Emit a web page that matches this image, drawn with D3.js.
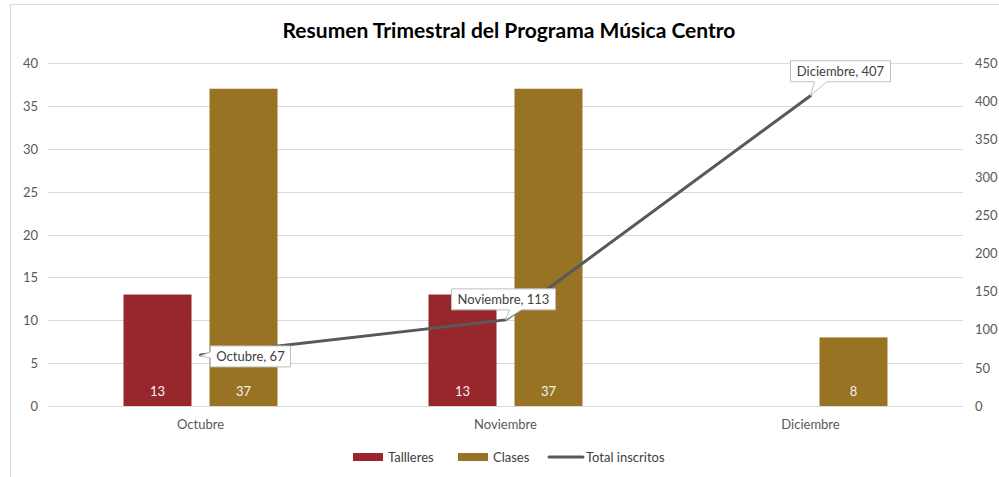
<!DOCTYPE html>
<html>
  <head>
    <meta charset="utf-8">
    <title>Resumen Trimestral</title>
    <script src="https://cdn.jsdelivr.net/npm/d3@7"></script>
    <style>
      body { margin: 0; background: #fff; }
      text { font-family: Lato, "Open Sans", sans-serif; }
      .tick text { fill: #595959; font-size: 13px; }
    </style>
  </head>
  <body>
    <script>
      // data
      var meses = ["Octubre", "Noviembre", "Diciembre"];
      var talleres = [13, 13, null];
      var clases = [37, 37, 8];
      var totalInscritos = [67, 113, 407];
      var leftTicks = [0, 5, 10, 15, 20, 25, 30, 35, 40];
      var rightTicks = [0, 50, 100, 150, 200, 250, 300, 350, 400, 450];
      var seriesNames = ["Tallleres", "Clases", "Total inscritos"];

      var colors = { talleres: "#98262d", clases: "#977323", line: "#595959" };

      var svg = d3.select("body").append("svg").attr("width", 999).attr("height", 477);

      svg.append("rect").attr("x", 10.5).attr("y", 4.5).attr("width", 1000).attr("height", 480)
        .attr("fill", "#fff").attr("stroke", "#d9d9d9");

      svg.append("text").attr("x", 509).attr("y", 38).attr("text-anchor", "middle")
        .attr("font-size", 21).attr("font-weight", "bold").attr("fill", "#000")
        .text("Resumen Trimestral del Programa Música Centro");

      var x = d3.scaleBand().domain(meses).range([48, 963]).padding(0);
      var xs = d3.scaleBand().domain(["t", "c"]).range([0, 154]).paddingInner(0.2093);
      var y = d3.scaleLinear().domain([0, 40]).range([406, 63]);
      var y2 = d3.scaleLinear().domain([0, 450]).range([406, 63]);

      // grid
      svg.append("g").selectAll("line").data(leftTicks).enter().append("line")
        .attr("x1", 48).attr("x2", 963)
        .attr("y1", function(d){ return Math.round(y(d)) + 0.5; })
        .attr("y2", function(d){ return Math.round(y(d)) + 0.5; })
        .attr("stroke", "#d9d9d9").attr("stroke-width", 1);

      var la = svg.append("g").attr("transform", "translate(48,0)")
        .call(d3.axisLeft(y).tickValues(leftTicks).tickSize(0).tickPadding(10));
      la.select(".domain").remove();
      la.selectAll("text").attr("dy", "0.35em");

      var ra = svg.append("g").attr("transform", "translate(963,0)")
        .call(d3.axisRight(y2).tickValues(rightTicks).tickSize(0).tickPadding(12));
      ra.select(".domain").remove();

      var xa = svg.append("g").attr("transform", "translate(0,406)")
        .call(d3.axisBottom(x).tickSize(0).tickPadding(14));
      xa.select(".domain").remove();

      // bars
      var rows = meses.map(function(m, i){ return { mes: m, t: talleres[i], c: clases[i] }; });
      var groups = svg.append("g").selectAll("g").data(rows).enter().append("g")
        .attr("transform", function(d){ return "translate(" + (x(d.mes) + x.bandwidth() / 2 - 77) + ",0)"; });

      [["t", colors.talleres], ["c", colors.clases]].forEach(function(s){
        var g = groups.filter(function(d){ return d[s[0]] != null; });
        g.append("rect")
          .attr("x", xs(s[0])).attr("width", xs.bandwidth())
          .attr("y", function(d){ return y(d[s[0]]); })
          .attr("height", function(d){ return y(0) - y(d[s[0]]); })
          .attr("fill", s[1]);
        g.append("text")
          .attr("x", xs(s[0]) + xs.bandwidth() / 2).attr("y", 396)
          .attr("text-anchor", "middle").attr("font-size", 13).attr("fill", "#f2f2f2")
          .text(function(d){ return d[s[0]]; });
      });

      // line
      var pts = meses.map(function(m, i){ return [x(m) + x.bandwidth() / 2, y2(totalInscritos[i])]; });
      svg.append("path").attr("d", d3.line()(pts)).attr("fill", "none")
        .attr("stroke", colors.line).attr("stroke-width", 3).attr("stroke-linecap", "round");

      // callouts: box offset relative to point, tail side
      var callouts = [
        { dx: 10, dy: -9, w: 80, tail: "left" },
        { dx: -54, dy: -31, w: 104, tail: "bottom" },
        { dx: -20, dy: -35, w: 100, tail: "bottom" }
      ];
      callouts.forEach(function(c, i){
        var px = pts[i][0], py = pts[i][1];
        var bx = px + c.dx, by = py + c.dy, h = 21;
        var g = svg.append("g");
        var d;
        if (c.tail === "left") {
          d = "M" + bx + "," + by + "H" + (bx + c.w) + "V" + (by + h) + "H" + bx +
              "V" + (by + 12) + "L" + px + "," + (py + 1) + "L" + bx + "," + (by + 6) + "Z";
        } else {
          var t1 = px + 4, t2 = px + 16;
          if (t2 > bx + c.w) { t1 = px - 12; t2 = px; }
          d = "M" + bx + "," + by + "H" + (bx + c.w) + "V" + (by + h) + "H" + t2 +
              "L" + px + "," + py + "L" + t1 + "," + (by + h) + "H" + bx + "Z";
        }
        g.append("path").attr("d", d).attr("fill", "#fff").attr("stroke", "#bfbfbf").attr("stroke-width", 1);
        g.append("text").attr("x", bx + c.w / 2).attr("y", by + 15).attr("text-anchor", "middle")
          .attr("font-size", 13).attr("fill", "#404040")
          .text(meses[i] + ", " + totalInscritos[i]);
      });

      // legend
      var leg = [
        { x: 353, name: seriesNames[0], type: "rect", color: colors.talleres },
        { x: 458, name: seriesNames[1], type: "rect", color: colors.clases },
        { x: 549, name: seriesNames[2], type: "line", color: colors.line }
      ];
      var lg = svg.append("g").selectAll("g").data(leg).enter().append("g");
      lg.filter(function(d){ return d.type === "rect"; }).append("rect")
        .attr("x", function(d){ return d.x; }).attr("y", 453).attr("width", 30).attr("height", 8)
        .attr("fill", function(d){ return d.color; });
      lg.filter(function(d){ return d.type === "line"; }).append("line")
        .attr("x1", function(d){ return d.x; }).attr("x2", function(d){ return d.x + 34; })
        .attr("y1", 457).attr("y2", 457).attr("stroke", function(d){ return d.color; })
        .attr("stroke-width", 3).attr("stroke-linecap", "round");
      lg.append("text")
        .attr("x", function(d){ return d.x + (d.type === "rect" ? 35 : 37); }).attr("y", 462)
        .attr("font-size", 13).attr("fill", "#404040")
        .text(function(d){ return d.name; });
    </script>
  </body>
</html>
